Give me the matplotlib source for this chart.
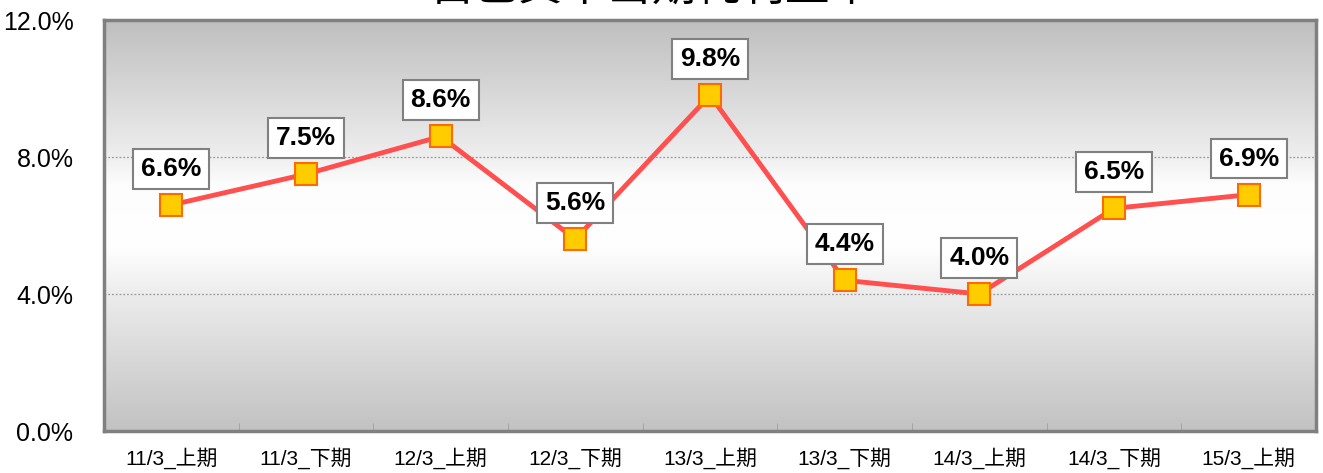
import numpy as np
import matplotlib.pyplot as plt
from matplotlib.colors import LinearSegmentedColormap

plt.rcParams['font.family'] = ['Liberation Sans', 'Noto Sans CJK JP', 'DejaVu Sans']

# データ
periods = ["11/3_上期", "11/3_下期", "12/3_上期", "12/3_下期", "13/3_上期",
           "13/3_下期", "14/3_上期", "14/3_下期", "15/3_上期"]
roe = [6.6, 7.5, 8.6, 5.6, 9.8, 4.4, 4.0, 6.5, 6.9]
title = "自己資本当期純利益率"

fig = plt.figure(figsize=(13.23, 4.73), dpi=100)
ax = fig.add_axes([104 / 1323, 42 / 473, 1212 / 1323, 411 / 473])

x = np.arange(len(periods))

# 背景のグラデーション (上下がグレー, 中央が白)
cmap = LinearSegmentedColormap.from_list(
    "bg", [(0.0, "#c2c2c2"), (0.33, "#ececec"), (0.45, "#ffffff"),
           (0.6, "#fdfdfd"), (0.67, "#eeeeee"), (1.0, "#bfbfbf")])
grad = np.linspace(0, 1, 256).reshape(-1, 1)
ax.imshow(grad, extent=(-0.5, len(periods) - 0.5, 0, 12), origin="lower",
          aspect="auto", cmap=cmap, zorder=0)

for yv in [4, 8]:
    ax.axhline(yv, color="#9a9a9a", lw=0.9, ls=(0, (1.5, 1.5)), zorder=1)

ax.plot(x, roe, color="#ff4f4f", lw=3.5, zorder=3,
        marker="s", markersize=16, markerfacecolor="#ffcc00",
        markeredgecolor="#ff6a00", markeredgewidth=1.5)

for xi, v in zip(x, roe):
    ax.annotate("%.1f%%" % v, (xi, v), xytext=(0, 26), textcoords="offset points",
                ha="center", va="center", fontsize=19, fontweight="bold",
                bbox=dict(boxstyle="square,pad=0.3", fc="white", ec="#808080", lw=1.5),
                zorder=4)

ax.set_xlim(-0.5, len(periods) - 0.5)
ax.set_ylim(0, 12)
ax.set_yticks([0, 4, 8, 12])
ax.set_yticklabels(["%.1f%%" % t for t in [0, 4, 8, 12]], fontsize=18)
ax.set_xticks(x)
ax.set_xticklabels(periods, fontsize=15)
ax.set_xticks(np.arange(0.5, len(periods) - 1, 1), minor=True)
ax.tick_params(axis="x", which="major", length=0, pad=12)
ax.tick_params(axis="x", which="minor", length=6, direction="in", color="#a0a0a0")
ax.tick_params(axis="y", length=0, pad=22)

for s in ax.spines.values():
    s.set_color("#808080")
    s.set_linewidth(2.5)

# タイトル (上端で切れている)
fig.text(652 / 1323, 1.027, title, ha="center", va="center", fontsize=32)

fig.savefig("out.png", dpi=100)
